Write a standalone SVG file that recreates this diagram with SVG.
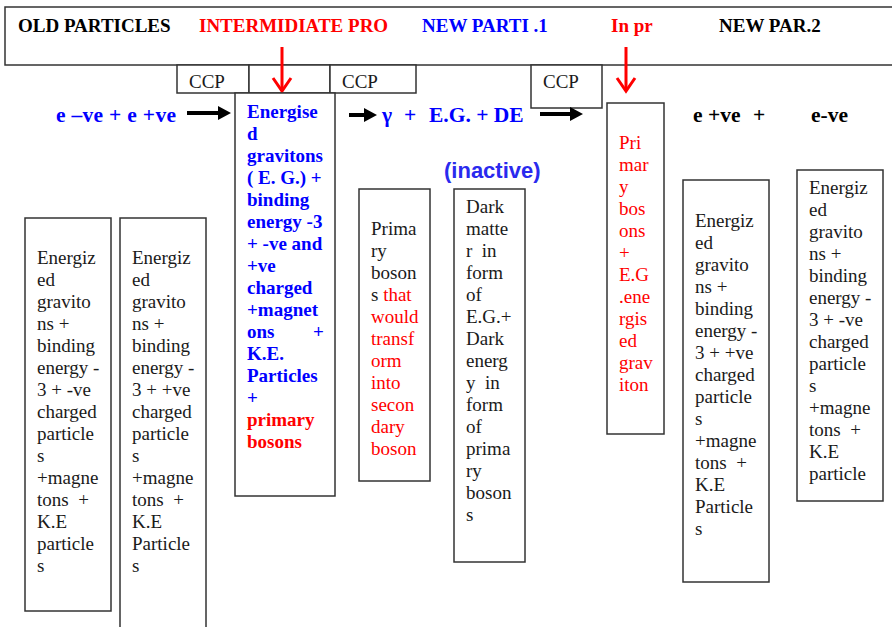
<svg xmlns="http://www.w3.org/2000/svg" width="892" height="627" viewBox="0 0 892 627">
<style>
.box{fill:#fff;stroke:#333;stroke-width:1.5}
.t{font-family:"Liberation Serif","Times New Roman",serif;font-size:19px;fill:#1a1a1a}
.b{font-weight:bold}
.eq{font-size:21.5px}
.blue{fill:#0000ff}
.red{fill:#ff0000}
.blk{fill:#000}
.sans{font-family:"Liberation Sans",Arial,sans-serif;font-weight:bold;font-size:22px;fill:#2a2aee}
.ra{stroke:#ff0000;stroke-width:3;fill:none}
</style>
<rect width="892" height="627" fill="#fff"/>

<g id="header">
<rect class="box" x="5" y="7" width="900" height="58"/>
<text class="t b blk" x="18" y="32">OLD PARTICLES</text>
<text class="t b red" x="199" y="32">INTERMIDIATE PRO</text>
<text class="t b blue" x="422" y="32">NEW PARTI .1</text>
<text class="t b red" x="611" y="32">In pr</text>
<text class="t b blk" x="719" y="32">NEW PAR.2</text>
</g>

<g id="ccp1"><rect class="box" x="177" y="65" width="72" height="28"/><text class="t" x="189" y="88">CCP</text></g>
<g id="ccp-mid"><rect class="box" x="249" y="65" width="81" height="28"/></g>
<g id="ccp2"><rect class="box" x="330" y="65" width="86" height="28"/><text class="t" x="342" y="88">CCP</text></g>
<g id="ccp3"><rect class="box" x="531" y="65" width="71" height="43"/><text class="t" x="543" y="88">CCP</text></g>

<g id="eq-left"><text class="t b eq blue" x="56" y="122" textLength="120" lengthAdjust="spacing">e –ve + e +ve</text></g>
<g id="eq-mid">
<text class="t b eq blue" x="382" y="122">γ</text>
<text class="t b eq blue" x="404" y="122">+</text>
<text class="t b eq blue" x="429" y="122">E.G. + DE</text>
</g>
<g id="eq-right">
<text class="t b eq blk" x="693" y="122">e +ve</text>
<text class="t b eq blk" x="753" y="122">+</text>
<text class="t b eq blk" x="811" y="122">e-ve</text>
</g>
<g id="inactive"><text class="sans" x="444" y="178">(inactive)</text></g>

<g id="connectors">
<path d="M187,111 H218 V106 L231,113 L218,120 V115 H187 Z" fill="#000"/>
<path d="M349,113 H364 V108 L377,115 L364,122 V117 H349 Z" fill="#000"/>
<path d="M540,112 H570 V107 L583,114 L570,121 V116 H540 Z" fill="#000"/>
<path class="ra" d="M282,47 V91"/>
<path class="ra" d="M273,78 L282,91 L291,78"/>
<path class="ra" d="M626,47 V91"/>
<path class="ra" d="M617,78 L626,91 L635,78"/>
</g>

<g id="energised">
<rect class="box" x="235" y="93" width="100" height="403"/>
<text class="t b blue">
<tspan x="247" y="118">Energise</tspan>
<tspan x="247" y="140">d</tspan>
<tspan x="247" y="162">gravitons</tspan>
<tspan x="247" y="184">( E. G.) +</tspan>
<tspan x="247" y="206">binding</tspan>
<tspan x="247" y="228">energy  -3</tspan>
<tspan x="247" y="250">+ -ve and</tspan>
<tspan x="247" y="272">+ve</tspan>
<tspan x="247" y="294">charged</tspan>
<tspan x="247" y="316">+magnet</tspan>
<tspan x="247" y="338">ons</tspan>
<tspan x="313" y="338">+</tspan>
<tspan x="247" y="360">K.E.</tspan>
<tspan x="247" y="382">Particles</tspan>
<tspan x="247" y="404">+</tspan>
</text>
<text class="t b red">
<tspan x="247" y="426">primary</tspan>
<tspan x="247" y="448">bosons</tspan>
</text>
</g>

<g id="primary-bosons">
<rect class="box" x="359" y="189" width="71" height="292"/>
<text class="t">
<tspan x="371" y="235">Prima</tspan>
<tspan x="371" y="257">ry</tspan>
<tspan x="371" y="279">boson</tspan>
<tspan x="371" y="301">s <tspan class="red">that</tspan></tspan>
</text>
<text class="t red">
<tspan x="371" y="323">would</tspan>
<tspan x="371" y="345">transf</tspan>
<tspan x="371" y="367">orm</tspan>
<tspan x="371" y="389">into</tspan>
<tspan x="371" y="411">secon</tspan>
<tspan x="371" y="433">dary</tspan>
<tspan x="371" y="455">boson</tspan>
</text>
</g>

<g id="dark-matter">
<rect class="box" x="454" y="189" width="71" height="373"/>
<text class="t" xml:space="preserve">
<tspan x="466" y="213">Dark</tspan>
<tspan x="466" y="235">matte</tspan>
<tspan x="466" y="257">r  in</tspan>
<tspan x="466" y="279">form</tspan>
<tspan x="466" y="301">of</tspan>
<tspan x="466" y="323">E.G.+</tspan>
<tspan x="466" y="345">Dark</tspan>
<tspan x="466" y="367">energ</tspan>
<tspan x="466" y="389">y  in</tspan>
<tspan x="466" y="411">form</tspan>
<tspan x="466" y="433">of</tspan>
<tspan x="466" y="455">prima</tspan>
<tspan x="466" y="477">ry</tspan>
<tspan x="466" y="499">boson</tspan>
<tspan x="466" y="521">s</tspan>
</text>
</g>

<g id="primary-eg">
<rect class="box" x="607" y="103" width="57" height="331"/>
<text class="t red">
<tspan x="619" y="149">Pri</tspan>
<tspan x="619" y="171">mar</tspan>
<tspan x="619" y="193">y</tspan>
<tspan x="619" y="215">bos</tspan>
<tspan x="619" y="237">ons</tspan>
<tspan x="619" y="259">+</tspan>
<tspan x="619" y="281">E.G</tspan>
<tspan x="619" y="303">.ene</tspan>
<tspan x="619" y="325">rgis</tspan>
<tspan x="619" y="347">ed</tspan>
<tspan x="619" y="369">grav</tspan>
<tspan x="619" y="391">iton</tspan>
</text>
</g>

<g id="old-neg">
<rect class="box" x="25" y="218" width="86" height="393"/>
<text class="t" xml:space="preserve">
<tspan x="37" y="264">Energiz</tspan>
<tspan x="37" y="286">ed</tspan>
<tspan x="37" y="308">gravito</tspan>
<tspan x="37" y="330">ns +</tspan>
<tspan x="37" y="352">binding</tspan>
<tspan x="37" y="374">energy -</tspan>
<tspan x="37" y="396">3 + -ve</tspan>
<tspan x="37" y="418">charged</tspan>
<tspan x="37" y="440">particle</tspan>
<tspan x="37" y="462">s</tspan>
<tspan x="37" y="484">+magne</tspan>
<tspan x="37" y="506">tons  +</tspan>
<tspan x="37" y="528">K.E</tspan>
<tspan x="37" y="550">particle</tspan>
<tspan x="37" y="572">s</tspan>
</text>
</g>

<g id="old-pos">
<rect class="box" x="120" y="218" width="86" height="420"/>
<text class="t" xml:space="preserve">
<tspan x="132" y="264">Energiz</tspan>
<tspan x="132" y="286">ed</tspan>
<tspan x="132" y="308">gravito</tspan>
<tspan x="132" y="330">ns +</tspan>
<tspan x="132" y="352">binding</tspan>
<tspan x="132" y="374">energy -</tspan>
<tspan x="132" y="396">3 + +ve</tspan>
<tspan x="132" y="418">charged</tspan>
<tspan x="132" y="440">particle</tspan>
<tspan x="132" y="462">s</tspan>
<tspan x="132" y="484">+magne</tspan>
<tspan x="132" y="506">tons  +</tspan>
<tspan x="132" y="528">K.E</tspan>
<tspan x="132" y="550">Particle</tspan>
<tspan x="132" y="572">s</tspan>
</text>
</g>

<g id="new-pos">
<rect class="box" x="683" y="180" width="86" height="402"/>
<text class="t" xml:space="preserve">
<tspan x="695" y="227">Energiz</tspan>
<tspan x="695" y="249">ed</tspan>
<tspan x="695" y="271">gravito</tspan>
<tspan x="695" y="293">ns +</tspan>
<tspan x="695" y="315">binding</tspan>
<tspan x="695" y="337">energy -</tspan>
<tspan x="695" y="359">3 + +ve</tspan>
<tspan x="695" y="381">charged</tspan>
<tspan x="695" y="403">particle</tspan>
<tspan x="695" y="425">s</tspan>
<tspan x="695" y="447">+magne</tspan>
<tspan x="695" y="469">tons  +</tspan>
<tspan x="695" y="491">K.E</tspan>
<tspan x="695" y="513">Particle</tspan>
<tspan x="695" y="535">s</tspan>
</text>
</g>

<g id="new-neg">
<rect class="box" x="797" y="170" width="86" height="331"/>
<text class="t" xml:space="preserve">
<tspan x="809" y="194">Energiz</tspan>
<tspan x="809" y="216">ed</tspan>
<tspan x="809" y="238">gravito</tspan>
<tspan x="809" y="260">ns +</tspan>
<tspan x="809" y="282">binding</tspan>
<tspan x="809" y="304">energy -</tspan>
<tspan x="809" y="326">3 + -ve</tspan>
<tspan x="809" y="348">charged</tspan>
<tspan x="809" y="370">particle</tspan>
<tspan x="809" y="392">s</tspan>
<tspan x="809" y="414">+magne</tspan>
<tspan x="809" y="436">tons  +</tspan>
<tspan x="809" y="458">K.E</tspan>
<tspan x="809" y="480">particle</tspan>
</text>
</g>
</svg>
